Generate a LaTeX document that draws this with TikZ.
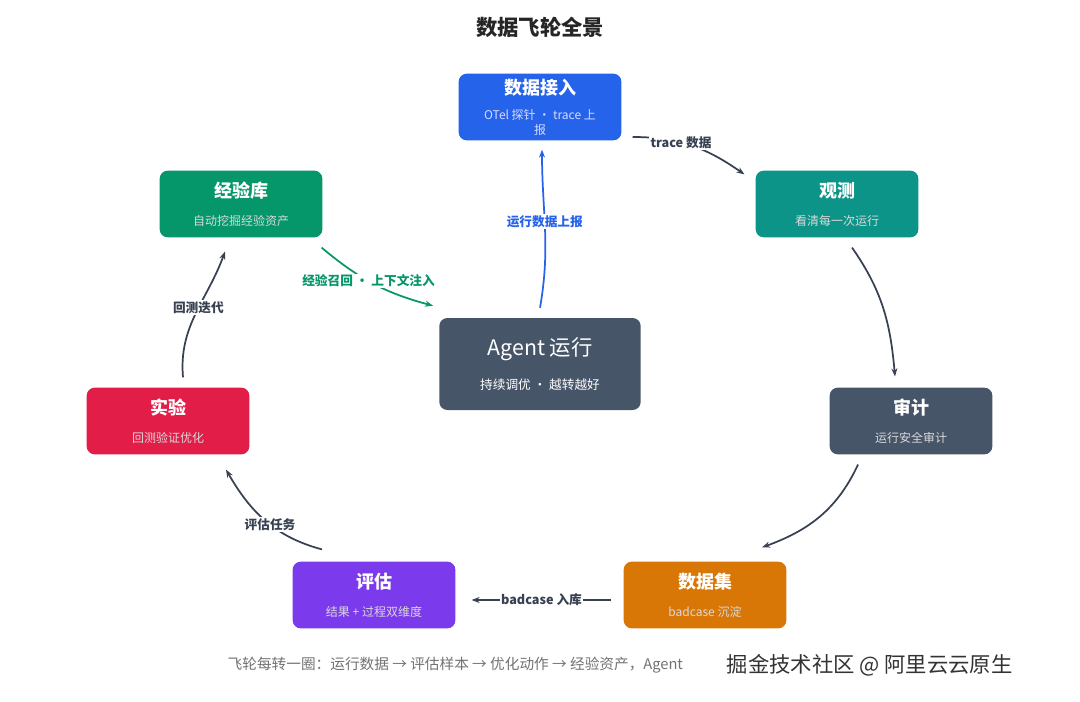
\documentclass[tikz,border=0pt]{standalone}
\usepackage{fontspec}
\setmainfont{Noto Sans CJK SC}
\usetikzlibrary{arrows.meta}
\definecolor{cblue}{HTML}{2563EB}
\definecolor{cteal}{HTML}{0D9488}
\definecolor{cslate}{HTML}{475569}
\definecolor{corange}{HTML}{D97706}
\definecolor{cpurple}{HTML}{7C3AED}
\definecolor{cred}{HTML}{E11D48}
\definecolor{cgreen}{HTML}{059669}
\definecolor{cline}{HTML}{374151}
\tikzset{
  box/.style={rounded corners=6pt, minimum width=122pt, minimum height=50pt, text=white},
  flow/.style={-{Stealth[length=6pt]}, line width=1.3pt, cline},
  lab/.style={fill=white, inner sep=1pt, font=\fontsize{9.5}{11}\selectfont\bfseries, text=cline}
}
\newcommand{\boxtext}[2]{\shortstack{{\fontsize{13.5}{16}\selectfont\bfseries #1}\\[9pt]{\fontsize{9}{11}\selectfont\color{white!85!black}#2}}}
\begin{document}
\begin{tikzpicture}[x=0.75pt,y=-0.75pt]
			\useasboundingbox[fill=white] (0,0) rectangle (1080,702);
			% Title
			\node[font=\fontsize{16}{19}\selectfont\bfseries, text=black!85] (title) at (540,27) {数据飞轮全景};

			% Stages
			\node[box, fill=cblue] (ingest) at (540,107) {\shortstack{{\fontsize{13.5}{16}\selectfont\bfseries 数据接入}\\[7pt]{\fontsize{9}{11}\selectfont\color{white!85!blue}OTel 探针 · trace 上}\\{\fontsize{9}{11}\selectfont\color{white!85!blue}报}}};
			\node[box, fill=cteal] (observe) at (837,204) {\boxtext{观测}{看清每一次运行}};
			\node[box, fill=cslate] (audit) at (911,421) {\boxtext{审计}{运行安全审计}};
			\node[box, fill=corange] (dataset) at (705,595) {\boxtext{数据集}{badcase 沉淀}};
			\node[box, fill=cpurple] (eval) at (374,595) {\boxtext{评估}{结果 + 过程双维度}};
			\node[box, fill=cred] (exp) at (168,421) {\boxtext{实验}{回测验证优化}};
			\node[box, fill=cgreen] (memory) at (241,204) {\boxtext{经验库}{自动挖掘经验资产}};

			% Center
			\node[box, fill=cslate, minimum width=151pt, minimum height=69pt] (agent) at (540,364) {\shortstack{{\fontsize{16}{19}\selectfont Agent 运行}\\[10pt]{\fontsize{9.5}{11}\selectfont 持续调优 · 越转越好}}};

			% Loop
			\draw[flow] ([shift={(11,30)}]ingest.east) to[out=0,in=145] node[lab, pos=0.4] {trace 数据} ([shift={(-11,4)}]observe.north west);
			\draw[flow] ([shift={(15,10)}]observe.south) to[out=-55,in=95] ([shift={(-16,-11)}]audit.north);
			\draw[flow] ([shift={(-53,10)}]audit.south) to[out=-115,in=20] ([shift={(57,-14)}]dataset.north);
			\draw[flow] ([shift={(-12,5)}]dataset.west) -- node[lab] {badcase 入库} ([shift={(16,5)}]eval.east);
			\draw[flow] ([shift={(-52,-12)}]eval.north) to[out=165,in=-60] node[lab, pos=0.45] {评估任务} ([shift={(58,15)}]exp.south);
			\draw[flow] ([shift={(15,-10)}]exp.north) to[out=95,in=-110] node[lab, pos=0.55] {回测迭代} ([shift={(-16,14)}]memory.south);

			% Into and out of the agent
			\draw[flow, cgreen] ([shift={(-1,10)}]memory.south east) to[out=-40,in=165] node[lab, text=cgreen, pos=0.45] {经验召回 · 上下文注入} ([shift={(-6,-12)}]agent.north west);
			\draw[flow, cblue] ([shift={(0,-10)}]agent.north) to[out=80,in=-90] node[lab, text=cblue, pos=0.55] {运行数据上报} ([shift={(2,9)}]ingest.south);

			% Caption
			\node[anchor=west, text=black!55, font=\fontsize{11}{13}\selectfont] (note) at (223,665) {飞轮每转一圈：运行数据 → 评估样本 → 优化动作 → 经验资产，Agent};
			\node[anchor=west, text=black!80, font=\fontsize{16}{19}\selectfont] (mark) at (722,665) {掘金技术社区 @ 阿里云云原生};
		\end{tikzpicture}
\end{document}
